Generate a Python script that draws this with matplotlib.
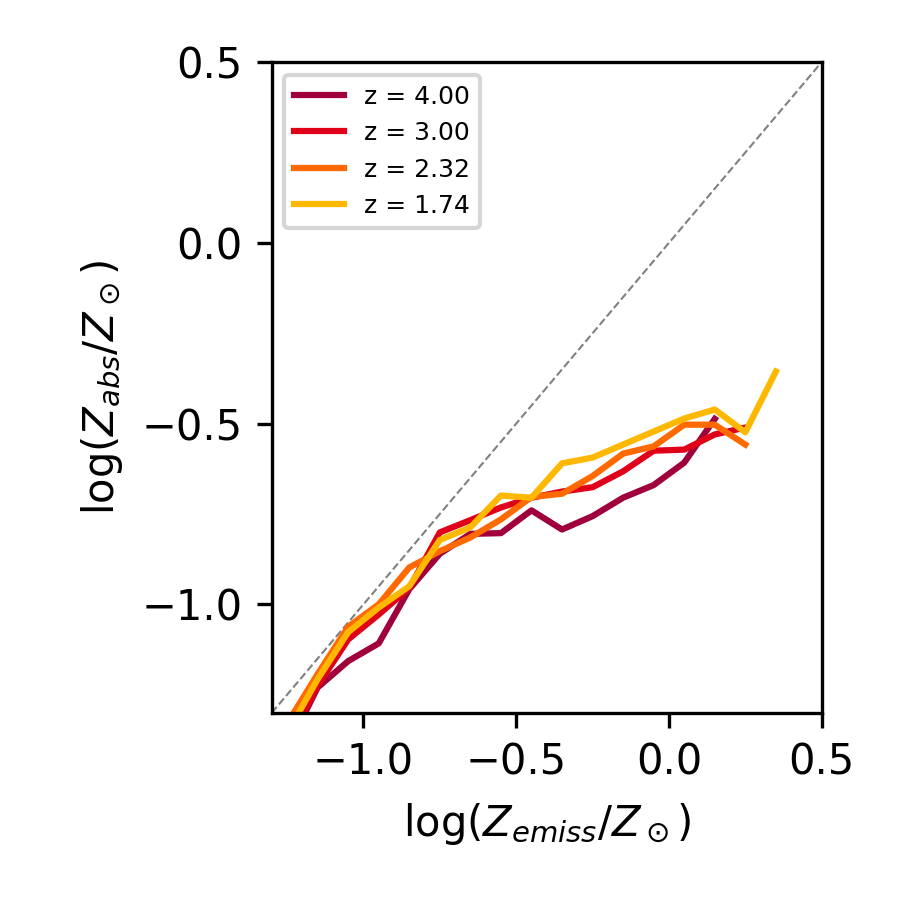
import matplotlib

matplotlib.use("Agg")
import matplotlib.pyplot as plt
import numpy as np

# bin centres in log(Z_emiss / Z_sun)
x_bins = [-1.25, -1.15, -1.05, -0.95, -0.85, -0.75, -0.65, -0.55,
          -0.45, -0.35, -0.25, -0.15, -0.05, 0.05, 0.15, 0.25, 0.35]

redshifts = ["4.00", "3.00", "2.32", "1.74"]
colors = ["#a0003c", "#e0001a", "#ff6a00", "#ffb800"]

z400 = [-1.40, -1.230, -1.157, -1.108, -0.958, -0.860, -0.805, -0.803,
        -0.740, -0.793, -0.756, -0.705, -0.670, -0.608, -0.487]
z300 = [-1.39, -1.225, -1.097, -1.028, -0.955, -0.801, -0.767, -0.732,
        -0.705, -0.688, -0.676, -0.632, -0.575, -0.572, -0.530, -0.511]
z232 = [-1.33, -1.193, -1.062, -1.000, -0.898, -0.853, -0.815, -0.765,
        -0.703, -0.694, -0.645, -0.583, -0.563, -0.503, -0.503, -0.558]
z174 = [-1.357, -1.207, -1.077, -1.009, -0.950, -0.822, -0.787, -0.699,
        -0.705, -0.610, -0.594, -0.558, -0.522, -0.486, -0.461, -0.524, -0.356]

series = [z400, z300, z232, z174]

fig = plt.figure(figsize=(3.0, 3.0), dpi=300)
ax = fig.add_axes([0.302, 0.208, 0.611, 0.723])

ax.plot([-1.3, 0.5], [-1.3, 0.5], "--", color="gray", linewidth=0.5)
for z, c, y in zip(redshifts, colors, series):
    ax.plot(x_bins[:len(y)], y, color=c, linewidth=1.5, label=f"z = {z}")

ax.set_xlim(-1.3, 0.5)
ax.set_ylim(-1.3, 0.5)
ax.set_xticks([-1.0, -0.5, 0.0, 0.5])
ax.set_yticks([-1.0, -0.5, 0.0, 0.5])
ax.set_xlabel(r"log($Z_{emiss}/Z_\odot$)")
ax.set_ylabel(r"log($Z_{abs}/Z_\odot$)")
ax.legend(loc="upper left", fontsize=6)

fig.savefig("out.png", dpi=300)
plt.close(fig)
